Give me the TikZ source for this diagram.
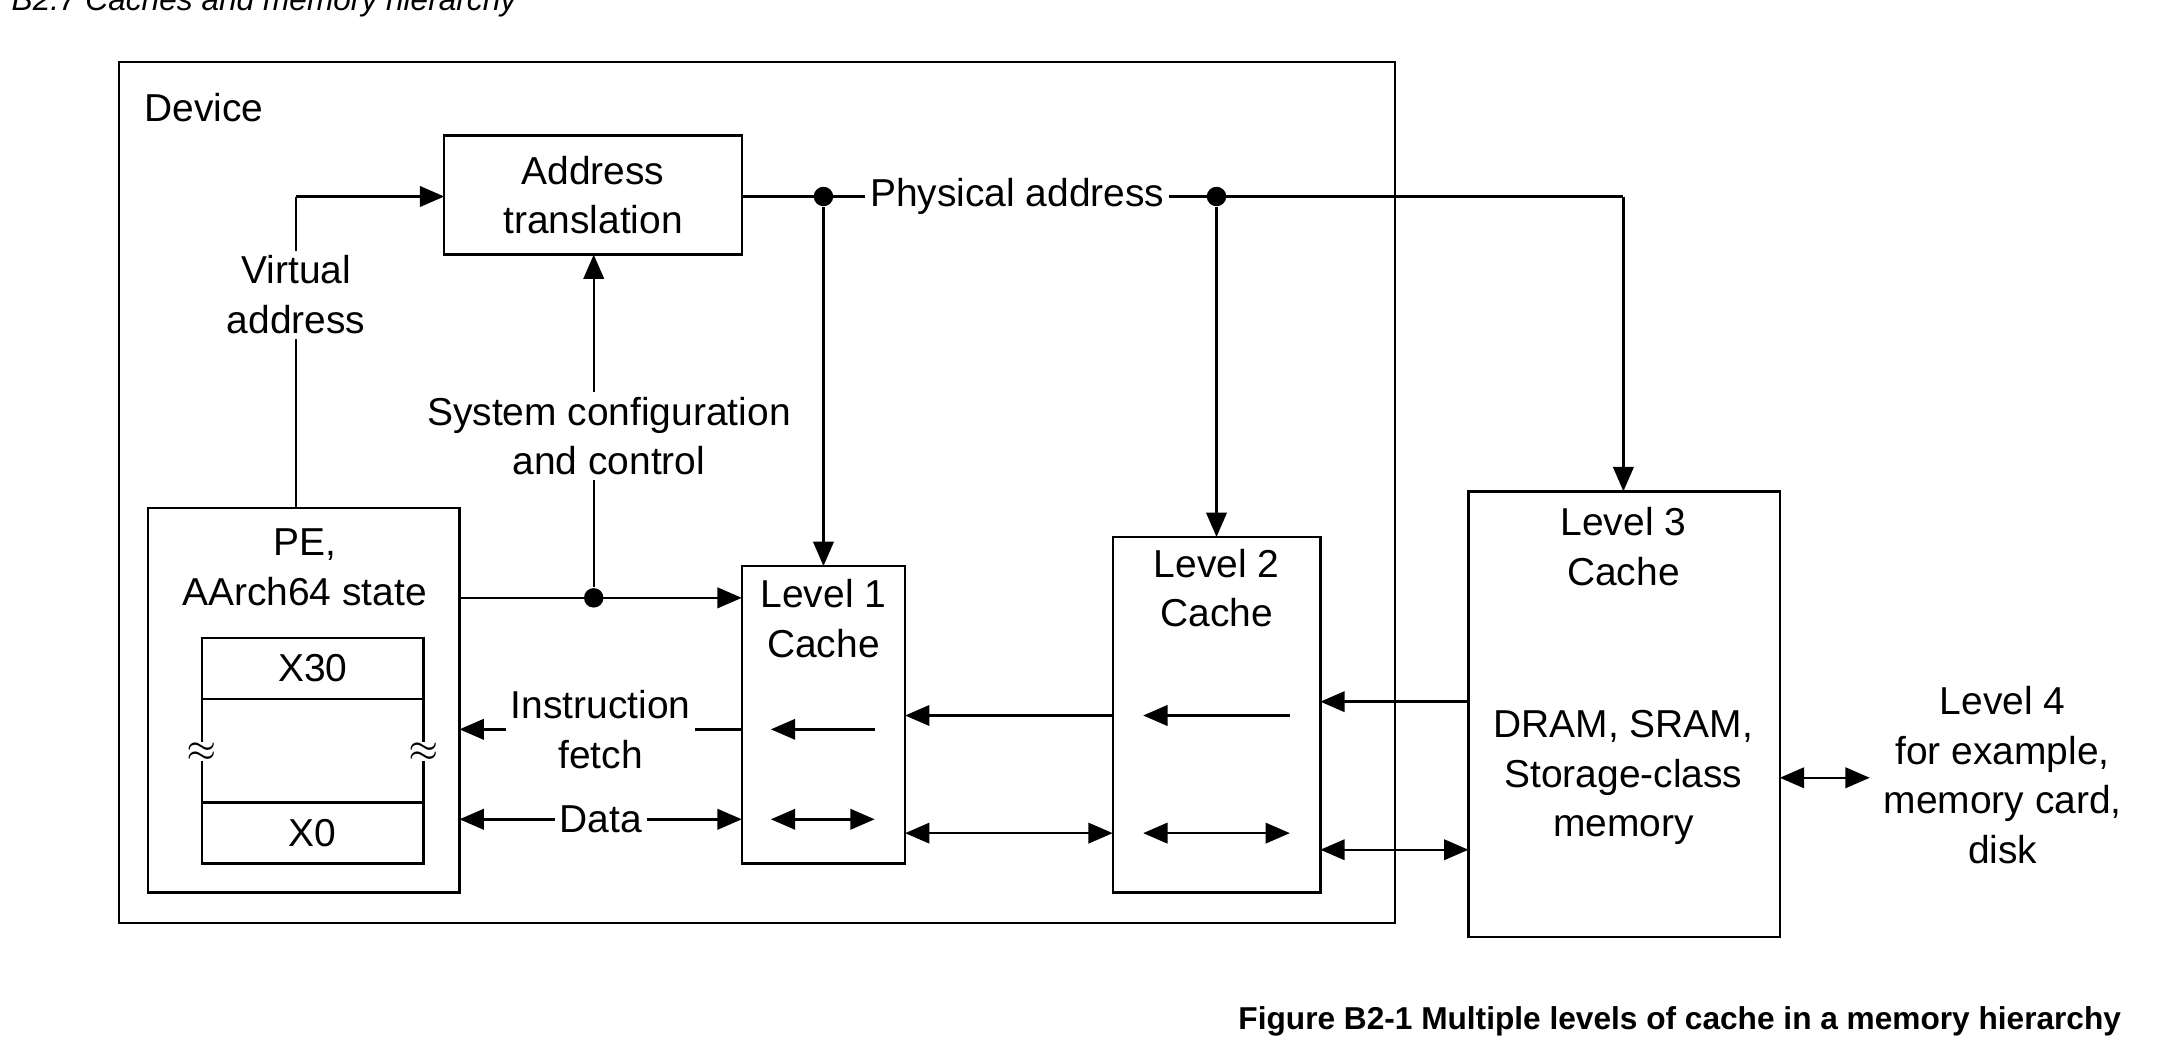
\documentclass[tikz,border=0pt]{standalone}
\usepackage{fontspec}
\setmainfont{Liberation Sans}
\usetikzlibrary{arrows.meta,calc}

\tikzset{
	lbl/.style = {align=center, font=\fontsize{8}{10.2}\selectfont},
	onw/.style = {lbl, fill=white, inner sep=1pt},
	arr/.style = {line width=0.5pt, -{Triangle[length=5pt,width=4.2pt]}},
	darr/.style = {line width=0.5pt, {Triangle[length=5pt,width=4.2pt]}-{Triangle[length=5pt,width=4.2pt]}},
	dot/.style = {circle, fill, inner sep=0pt, minimum size=4pt}
}

\begin{document}
\begin{tikzpicture}[x=0.01cm, y=-0.01cm]
	\useasboundingbox (0,0) rectangle (1560,768);
	\node[anchor=west, font=\fontsize{6.5}{8}\selectfont\itshape] (hdr) at (-4,2) {B2.7 Caches and memory hierarchy};
	\node[anchor=east, font=\fontsize{6.5}{8}\selectfont\bfseries] (cap) at (1545,738) {Figure B2-1 Multiple levels of cache in a memory hierarchy};

	% boxes
	\draw[line width=0.5pt] (86,45) rectangle (1008,667);
	\node[lbl, anchor=west] (dev) at (92,78) {Device};
	\draw[line width=0.5pt] (321,98) rectangle (536,184);
	\node[lbl] (at) at (428.5,141) {Address\\translation};
	\draw[line width=0.5pt] (107,367) rectangle (332,645);
	\node[lbl] (pe) at (220,410) {PE,\\AArch64 state};
	\draw[line width=0.5pt] (146,461) rectangle (306,624);
	\draw[line width=0.5pt] (146,505) -- (306,505) (146,580) -- (306,580);
	\node[lbl] (x30) at (226,483) {X30};
	\node[lbl] (x0) at (226,602) {X0};
	\foreach \x in {146,306}
		\node[fill=white, inner sep=0pt, font=\fontsize{7}{8}\selectfont] at (\x,543) {$\approx$};
	\draw[line width=0.5pt] (536,409) rectangle (654,624);
	\node[lbl] (l1) at (595,447) {Level 1\\Cache};
	\draw[line width=0.5pt] (804,388) rectangle (954,645);
	\node[lbl] (l2) at (879,425) {Level 2\\Cache};
	\draw[line width=0.5pt] (1061,355) rectangle (1286,677);
	\node[lbl] (l3) at (1173,395) {Level 3\\Cache};
	\node[lbl] (mem) at (1173,562) {DRAM, SRAM,\\Storage-class\\memory};
	\node[lbl] (l4) at (1447,560) {Level 4\\for example,\\memory card,\\disk};

	% address paths
	\coordinate (va) at (214,142);
	\draw[line width=0.5pt] (214,367) -- (va);
	\draw[arr] (va) -- (321,142);
	\node[onw] (vtxt) at (214,213) {Virtual\\address};
	\draw[line width=0.5pt] (536,142) -- (1173,142);
	\draw[arr] (1173,142) -- (1173,355);
	\node[dot] (d1) at (595,142) {};
	\node[dot] (d2) at (879,142) {};
	\draw[arr] (d1) -- (595,409);
	\draw[arr] (d2) -- (879,388);
	\node[onw] (pa) at (735,142) {Physical address};
	\node[dot] (d3) at (429,432) {};
	\draw[arr] (332,432) -- (536,432);
	\draw[arr] (d3) -- (429,184);
	\node[onw] (sys) at (440,315) {System configuration\\and control};

	% data paths
	\draw[arr] (536,527) -- (332,527);
	\node[onw] (ifetch) at (434,527) {Instruction\\fetch};
	\draw[darr] (332,592) -- (536,592);
	\node[onw] (data) at (434,592) {Data};
	\draw[arr] (632,527) -- (557,527);
	\draw[darr] (557,592) -- (632,592);
	\draw[arr] (804,517) -- (654,517);
	\draw[darr] (654,602) -- (804,602);
	\draw[arr] (932,517) -- (826,517);
	\draw[darr] (826,602) -- (932,602);
	\draw[arr] (1061,507) -- (954,507);
	\draw[darr] (954,614) -- (1061,614);
	\draw[darr] (1286,562) -- (1351,562);
\end{tikzpicture}
\end{document}
